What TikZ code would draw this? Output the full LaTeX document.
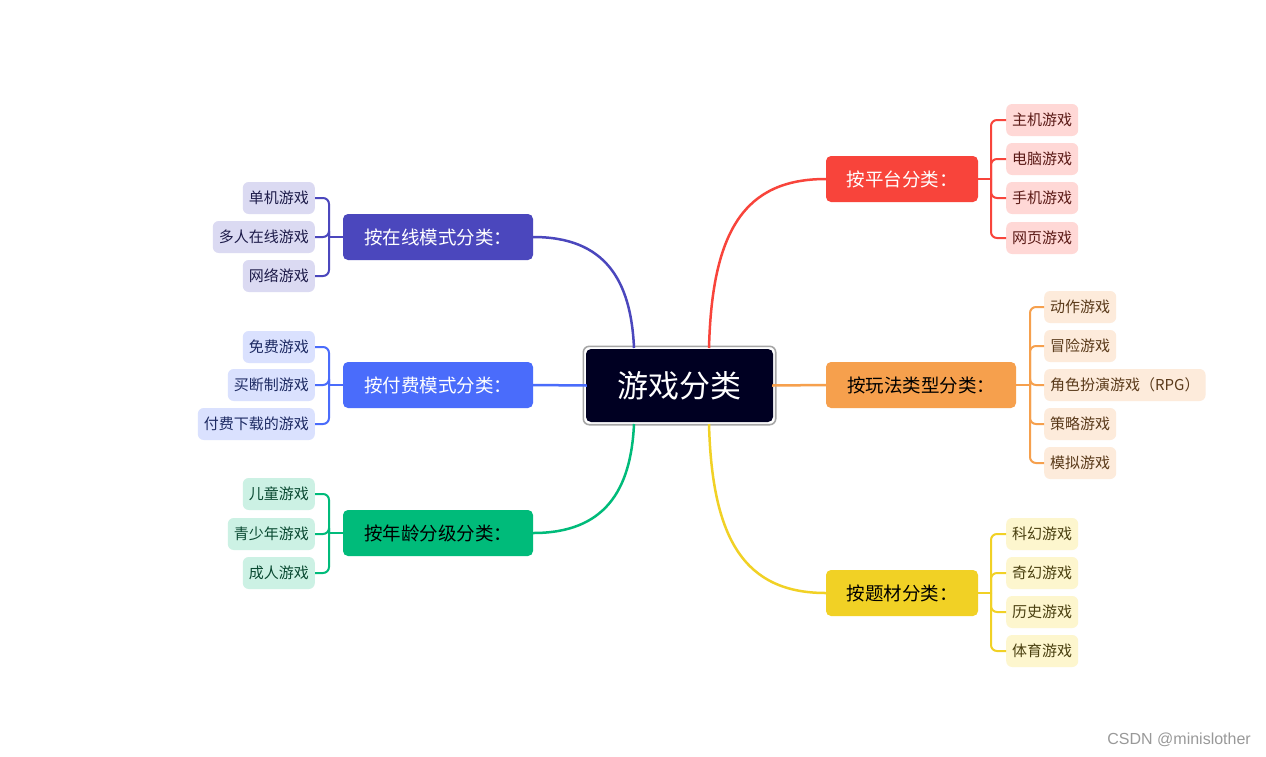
\documentclass[tikz,border=0pt]{standalone}
\usepackage{fontspec}
\setmainfont{Noto Sans CJK SC}
\newfontfamily\wmfont{Liberation Sans}
\definecolor{rootc}{HTML}{000022}
\definecolor{rootb}{HTML}{A6A6A6}
\definecolor{redc}{HTML}{F8443B}
\definecolor{redl}{HTML}{FFD8D6}
\definecolor{redt}{HTML}{5B1A16}
\definecolor{orac}{HTML}{F6A04D}
\definecolor{oral}{HTML}{FDEBDB}
\definecolor{orat}{HTML}{5A3A1A}
\definecolor{yelc}{HTML}{F1D125}
\definecolor{yell}{HTML}{FDF6CE}
\definecolor{yelt}{HTML}{4A4010}
\definecolor{purc}{HTML}{4B47BD}
\definecolor{purl}{HTML}{DBDAF2}
\definecolor{purt}{HTML}{1E1C4A}
\definecolor{bluc}{HTML}{4A6CFB}
\definecolor{blul}{HTML}{DAE1FE}
\definecolor{blut}{HTML}{1D2A63}
\definecolor{grnc}{HTML}{00BB7A}
\definecolor{grnl}{HTML}{CCF1E4}
\definecolor{grnt}{HTML}{0A4A32}
\begin{document}
\begin{tikzpicture}[x=1pt,y=-1pt,
  root/.style={rounded corners=5pt, fill=rootc, minimum width=187pt, minimum height=73pt, inner sep=0pt, font=\fontsize{31}{33}\selectfont, text=white},
  lvone/.style={rounded corners=5pt, minimum height=46pt, inner xsep=0pt, inner ysep=0pt, font=\fontsize{18.5}{20}\selectfont},
  leaf/.style={rounded corners=6pt, minimum height=32pt, inner xsep=6pt, inner ysep=0pt, font=\fontsize{15}{16}\selectfont},
  link/.style={line width=2.5pt},
  brk/.style={line width=2pt, rounded corners=6pt}]
\useasboundingbox (0,0) rectangle (1266,756);
\fill[white] (0,0) rectangle (1266,756);

% root
\node[root] (c) at (679.5,385.5) {游戏分类};
\draw[rootb, line width=1.6pt, rounded corners=6pt] ([xshift=-2.5pt,yshift=2.5pt]c.north west) rectangle ([xshift=2.5pt,yshift=-2.5pt]c.south east);
\coordinate (cne) at (709,348);
\coordinate (cse) at (709,424);
\coordinate (cnw) at (634,348);
\coordinate (csw) at (634,424);

% ---------- right side ----------
\node[lvone, fill=redc, text=white, minimum width=152pt] (r1) at (902,179) {按平台分类：};
\node[lvone, fill=orac, text=black, minimum width=190pt] (r2) at (921,385) {按玩法类型分类：};
\node[lvone, fill=yelc, text=black, minimum width=152pt] (r3) at (902,593) {按题材分类：};

\draw[link, redc] (cne) .. controls (712,230) and (745,179) .. (r1.west);
\draw[link, orac] ([xshift=-1pt]c.east) -- ([xshift=1pt]r2.west);
\draw[link, yelc] (cse) .. controls (712,540) and (745,593) .. (r3.west);

% red children
\node[leaf, fill=redl, text=redt, anchor=west] (r1a) at (1006,120) {主机游戏};
\node[leaf, fill=redl, text=redt, anchor=west] (r1b) at (1006,159) {电脑游戏};
\node[leaf, fill=redl, text=redt, anchor=west] (r1c) at (1006,198) {手机游戏};
\node[leaf, fill=redl, text=redt, anchor=west] (r1d) at (1006,238) {网页游戏};
\coordinate (r1j) at (991,179);
\draw[brk, redc] (r1.east) -- (r1j);
\foreach \n in {r1a,r1b,r1c,r1d} \draw[brk, redc] (r1j) |- (\n.west);

% orange children
\node[leaf, fill=oral, text=orat, anchor=west] (r2a) at (1044,307) {动作游戏};
\node[leaf, fill=oral, text=orat, anchor=west] (r2b) at (1044,346) {冒险游戏};
\node[leaf, fill=oral, text=orat, anchor=west] (r2c) at (1044,385) {角色扮演游戏（RPG）};
\node[leaf, fill=oral, text=orat, anchor=west] (r2d) at (1044,424) {策略游戏};
\node[leaf, fill=oral, text=orat, anchor=west] (r2e) at (1044,463) {模拟游戏};
\coordinate (r2j) at (1030,385);
\draw[brk, orac] (r2.east) -- (r2j);
\foreach \n in {r2a,r2b,r2c,r2d,r2e} \draw[brk, orac] (r2j) |- (\n.west);

% yellow children
\node[leaf, fill=yell, text=yelt, anchor=west] (r3a) at (1006,534) {科幻游戏};
\node[leaf, fill=yell, text=yelt, anchor=west] (r3b) at (1006,573) {奇幻游戏};
\node[leaf, fill=yell, text=yelt, anchor=west] (r3c) at (1006,612) {历史游戏};
\node[leaf, fill=yell, text=yelt, anchor=west] (r3d) at (1006,651) {体育游戏};
\coordinate (r3j) at (991,593);
\draw[brk, yelc] (r3.east) -- (r3j);
\foreach \n in {r3a,r3b,r3c,r3d} \draw[brk, yelc] (r3j) |- (\n.west);

% ---------- left side ----------
\node[lvone, fill=purc, text=white, minimum width=190pt] (l1) at (438,237) {按在线模式分类：};
\node[lvone, fill=bluc, text=white, minimum width=190pt] (l2) at (438,385) {按付费模式分类：};
\node[lvone, fill=grnc, text=black, minimum width=190pt] (l3) at (438,533) {按年龄分级分类：};

\draw[link, purc] (cnw) .. controls (631,280) and (605,237) .. (l1.east);
\draw[link, bluc] ([xshift=1pt]c.west) -- ([xshift=-1pt]l2.east);
\draw[link, grnc] (csw) .. controls (631,490) and (605,533) .. (l3.east);

% purple children
\node[leaf, fill=purl, text=purt, anchor=east] (l1a) at (315,198) {单机游戏};
\node[leaf, fill=purl, text=purt, anchor=east] (l1b) at (315,237) {多人在线游戏};
\node[leaf, fill=purl, text=purt, anchor=east] (l1c) at (315,276) {网络游戏};
\coordinate (l1j) at (329,237);
\draw[brk, purc] (l1.west) -- (l1j);
\foreach \n in {l1a,l1b,l1c} \draw[brk, purc] (l1j) |- (\n.east);

% blue children
\node[leaf, fill=blul, text=blut, anchor=east] (l2a) at (315,347) {免费游戏};
\node[leaf, fill=blul, text=blut, anchor=east] (l2b) at (315,385) {买断制游戏};
\node[leaf, fill=blul, text=blut, anchor=east] (l2c) at (315,424) {付费下载的游戏};
\coordinate (l2j) at (329,385);
\draw[brk, bluc] (l2.west) -- (l2j);
\foreach \n in {l2a,l2b,l2c} \draw[brk, bluc] (l2j) |- (\n.east);

% green children
\node[leaf, fill=grnl, text=grnt, anchor=east] (l3a) at (315,494) {儿童游戏};
\node[leaf, fill=grnl, text=grnt, anchor=east] (l3b) at (315,534) {青少年游戏};
\node[leaf, fill=grnl, text=grnt, anchor=east] (l3c) at (315,573) {成人游戏};
\coordinate (l3j) at (329,533);
\draw[brk, grnc] (l3.west) -- (l3j);
\foreach \n in {l3a,l3b,l3c} \draw[brk, grnc] (l3j) |- (\n.east);

% watermark
\node[anchor=east, text=black!40, font=\wmfont\fontsize{16}{17}\selectfont, inner sep=0pt] (wm) at (1251,740) {CSDN @minislother};
\end{tikzpicture}
\end{document}
